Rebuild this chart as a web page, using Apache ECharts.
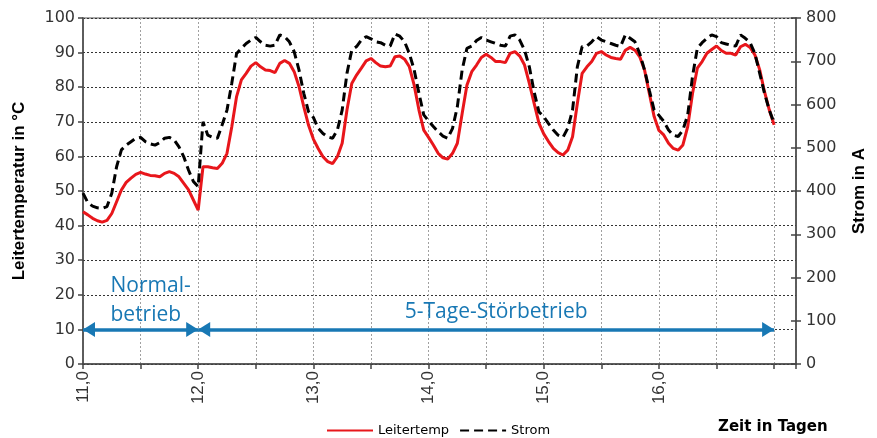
<!DOCTYPE html>
<html>
<head>
<meta charset="utf-8">
<script src="https://cdn.jsdelivr.net/npm/echarts@6/dist/echarts.min.js"></script>
<style>
html,body{margin:0;padding:0;background:#fff;}
#chart{width:877px;height:438px;}
</style>
</head>
<body>
<div id="chart"></div>
<script>
// ---- data ----
const startDay = 11;          // first sample (day)
const samplesPerDay = 24;     // hourly samples
const leitertemp = [
 44.0,43.1,42.1,41.4,41.0,41.5,43.5,46.9,50.3,52.5,53.7,54.8,55.4,54.9,54.5,54.4,54.1,55.1,55.6,55.1,54.1,52.2,50.3,47.4,
 44.5,57.0,57.0,56.7,56.5,58.0,60.9,68.6,77.3,82.1,84.0,86.1,87.1,85.9,85.0,84.8,84.2,86.9,87.7,86.9,84.5,80.2,74.4,69.0,
 65.0,62.3,59.9,58.5,57.9,59.9,63.8,73.4,81.1,83.5,85.5,87.6,88.3,87.1,86.1,85.9,86.1,88.8,89.0,88.1,85.9,80.6,73.4,67.6,
 65.5,63.3,60.9,59.6,59.2,60.9,63.8,72.4,80.6,84.5,86.4,88.6,89.5,88.6,87.4,87.4,87.1,89.8,90.3,89.0,86.4,81.1,75.3,69.6,
 66.5,64.3,62.3,61.1,60.4,61.8,65.7,75.3,84.0,85.9,87.4,89.8,90.3,89.3,88.6,88.3,88.1,90.7,91.5,90.7,88.8,85.0,78.2,71.5,
 67.5,66.2,63.8,62.3,61.8,63.3,68.6,78.2,85.5,87.4,89.8,90.9,91.9,90.6,89.8,89.8,89.3,91.7,92.4,91.5,89.3,85.0,78.7,73.4,
 69.1
];
const strom = [
 395,373,365,361,360,364,395,456,495,506,514,522,524,514,509,506,512,522,524,518,502,479,448,422,
 410,560,529,524,522,553,587,649,718,730,741,749,755,745,737,735,737,761,757,745,722,680,626,583,
 570,545,533,525,522,541,587,672,726,734,749,757,752,745,743,737,735,763,758,745,718,680,626,576,
 562,549,537,527,522,545,595,680,730,735,748,755,749,745,741,737,735,758,761,749,726,687,629,583,
 572,556,541,529,524,545,587,687,734,735,745,757,749,745,741,737,734,761,753,745,718,680,633,587,
 575,561,541,529,526,541,576,665,730,743,753,761,757,743,740,737,735,761,753,743,718,672,626,587,
 557
];
const dayTickLabels = {11:'11,0',12:'12,0',13:'13,0',14:'14,0',15:'15,0',16:'16,0'};
const phases = [
  {name:'Normal-\nbetrieb', from:11, to:12},
  {name:'5-Tage-Störbetrieb', from:12, to:17}
];
const phaseLevel = 10;
const seriesNames = ['Leitertemp','Strom'];

// ---- build ----
const tempData = leitertemp.map((v,i)=>[startDay + i/samplesPerDay, v]);
const stromData = strom.map((v,i)=>[startDay + i/samplesPerDay, v]);
const blue = '#1878b4';
const font = '"Liberation Sans", Arial, sans-serif';
const wideFont = '"DejaVu Sans", sans-serif';
const annFont = '"Open Sans", "Noto Sans", sans-serif';
const phaseLabelStyles = [
  {distance:0, padding:[0,0,0,20],
   formatter:p=>p.name.split('\n').map(s=>'{a|'+s+'}').join('\n'),
   rich:{a:{align:'left', color:blue, fontSize:21, fontFamily:annFont, lineHeight:29}}},
  {distance:3, padding:[0,0,0,20], formatter:p=>p.name}
];

const chart = echarts.init(document.getElementById('chart'), null, {renderer:'canvas'});
chart.setOption({
  animation:false,
  backgroundColor:'#fff',
  textStyle:{fontFamily:font},
  title:{
    text:'Zeit in Tagen', left:713, top:415,
    textStyle:{fontFamily:wideFont, fontSize:15, fontWeight:'bold', color:'#000'}
  },
  legend:{
    data:seriesNames, left:321, top:419, itemWidth:46, itemHeight:14, itemGap:10,
    itemStyle:{opacity:0},
    textStyle:{fontFamily:wideFont, fontSize:13, color:'#000'}
  },
  grid:{left:83, right:81, top:18, bottom:74, show:true, borderColor:'#8c8c8c', borderWidth:1.5, containLabel:false},
  xAxis:{
    type:'value', min:11, max:17.19, interval:0.5,
    axisLine:{show:true, onZero:false, lineStyle:{color:'#444', width:1.5}},
    axisTick:{show:true, length:5, lineStyle:{color:'#444', width:1.5}},
    axisLabel:{rotate:90, fontSize:17, color:'#333', margin:7, fontFamily:font,
      formatter:v=> dayTickLabels[v] !== undefined ? dayTickLabels[v] : ''},
    splitLine:{show:true, lineStyle:{color:'#a0a0a0', type:[2,2], width:1}}
  },
  yAxis:[
    {type:'value', min:0, max:100, interval:10, position:'left',
     name:'Leitertemperatur in °C', nameLocation:'middle', nameGap:55,
     nameTextStyle:{fontFamily:font, fontSize:17, fontWeight:'bold', color:'#000'},
     axisLine:{show:true, lineStyle:{color:'#444', width:1.5}},
     axisTick:{show:true, length:5, lineStyle:{color:'#444', width:1.5}},
     axisLabel:{fontSize:16, color:'#333', margin:8, fontFamily:wideFont},
     splitLine:{show:true, lineStyle:{color:'#333', type:[2,2], width:1}}
    },
    {type:'value', min:0, max:800, interval:100, position:'right',
     name:'Strom in A', nameLocation:'middle', nameGap:55,
     nameTextStyle:{fontFamily:font, fontSize:17, fontWeight:'bold', color:'#000'},
     axisLine:{show:true, lineStyle:{color:'#444', width:1.5}},
     axisTick:{show:true, length:5, lineStyle:{color:'#444', width:1.5}},
     axisLabel:{fontSize:16, color:'#333', margin:10, fontFamily:wideFont},
     splitLine:{show:false}
    },
    {type:'value', min:0, max:800, interval:100, position:'right',
     axisLine:{show:false},
     axisTick:{show:true, inside:true, length:5, lineStyle:{color:'#444', width:1.5}},
     axisLabel:{show:false}, splitLine:{show:false}
    }
  ],
  series:[
    {name:seriesNames[0], type:'line', yAxisIndex:0, data:tempData, symbol:'none', smooth:false,
     lineStyle:{color:'#e8161b', width:3}, itemStyle:{color:'#e8161b'}, z:3,
     markLine:{
       silent:true, symbol:['triangle','triangle'], symbolSize:[15,12],
       symbolOffset:[[0,6],[0,6]],
       lineStyle:{color:blue, width:3.5, type:'solid'},
       label:{show:true, position:'middle', color:blue, fontSize:21,
              fontFamily:annFont, lineHeight:29},
       data: phases.map((ph,k)=>[
         {name:ph.name, coord:[ph.from, phaseLevel], label:Object.assign({show:true, position:'middle', color:blue, fontSize:21, fontFamily:annFont}, phaseLabelStyles[k])},
         {coord:[ph.to, phaseLevel]}
       ])
     }
    },
    {name:seriesNames[1], type:'line', yAxisIndex:1, data:stromData, symbol:'none', smooth:false,
     lineStyle:{color:'#000', width:3, type:[9,5]}, itemStyle:{color:'#000'}, z:4}
  ]
});
</script>
</body>
</html>
